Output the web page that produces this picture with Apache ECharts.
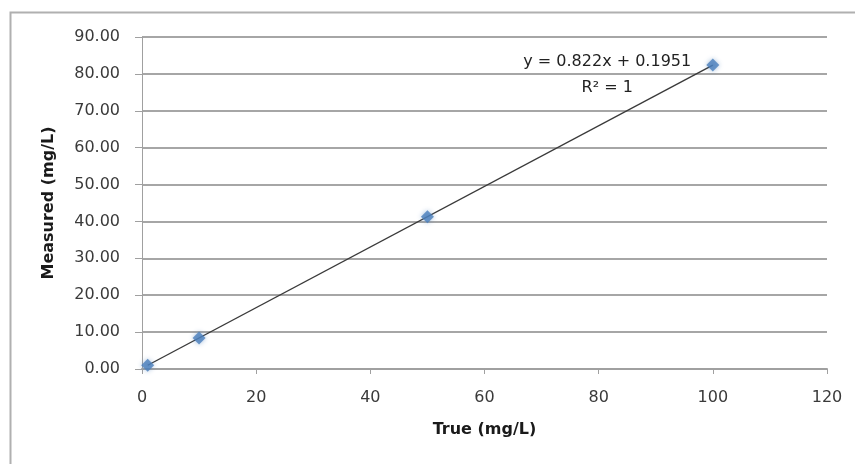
<!DOCTYPE html>
<html>
<head>
<meta charset="utf-8">
<script src="https://cdn.jsdelivr.net/npm/echarts@6/dist/echarts.min.js"></script>
<style>
  html, body { margin: 0; padding: 0; background: #ffffff; }
  #chart { width: 855px; height: 464px; }
</style>
</head>
<body>
<div id="chart"></div>
<script>
// Calibration data: true vs measured concentration
const trueValues = [1, 10, 50, 100];
const measuredValues = [1.02, 8.42, 41.30, 82.40];

// Linear fit reported on the chart
const slope = 0.822;
const intercept = 0.1951;
const rSquared = 1;

const xTicks = { min: 0, max: 120, interval: 20 };
const yTicks = { min: 0, max: 90, interval: 10 };

const points = trueValues.map((x, i) => [x, measuredValues[i]]);
const fitX = [Math.min(...trueValues), Math.max(...trueValues)];
const fitLine = fitX.map(x => [x, slope * x + intercept]);

const chart = echarts.init(document.getElementById('chart'), null, { renderer: 'canvas' });
const font = '"DejaVu Sans", "Noto Sans", sans-serif';

chart.setOption({
  backgroundColor: '#ffffff',
  animation: false,
  graphic: [{
    type: 'rect',
    shape: { x: 10.5, y: 12.5, width: 900, height: 500 },
    style: { fill: 'none', stroke: '#b0b0b0', lineWidth: 2 },
    silent: true
  }],
  grid: { left: 142, top: 37, width: 685, height: 332 },
  xAxis: {
    type: 'value',
    min: xTicks.min, max: xTicks.max, interval: xTicks.interval,
    name: 'True (mg/L)',
    nameLocation: 'middle',
    nameGap: 53,
    nameTextStyle: { fontFamily: font, fontSize: 16, fontWeight: 'bold', color: '#1a1a1a' },
    axisLine: { show: true, onZero: false, lineStyle: { color: '#a0a0a0', width: 2 } },
    axisTick: { show: true, length: 5, lineStyle: { color: '#a0a0a0' } },
    axisLabel: { fontFamily: font, fontSize: 16, color: '#3a3a3a', margin: 21 },
    splitLine: { show: false }
  },
  yAxis: {
    type: 'value',
    min: yTicks.min, max: yTicks.max, interval: yTicks.interval,
    name: 'Measured (mg/L)',
    nameLocation: 'middle',
    nameGap: 85,
    nameRotate: 90,
    nameTextStyle: { fontFamily: font, fontSize: 16, fontWeight: 'bold', color: '#1a1a1a' },
    axisLine: { show: true, lineStyle: { color: '#a0a0a0', width: 1 } },
    axisTick: { show: true, length: 7, lineStyle: { color: '#a0a0a0' } },
    axisLabel: {
      fontFamily: font, fontSize: 16, color: '#3a3a3a', margin: 22,
      formatter: v => v.toFixed(2)
    },
    splitLine: { show: true, lineStyle: { color: '#a6a6a6', width: 2 } }
  },
  series: [
    {
      name: 'Linear fit',
      type: 'line',
      data: fitLine,
      symbol: 'none',
      lineStyle: { color: '#3a3a3a', width: 1.4 },
      z: 3,
      markPoint: {
        symbol: 'circle', symbolSize: 0,
        data: [{
          coord: [81.5, 79.7],
          label: {
            show: true,
            position: 'inside',
            formatter: 'y = ' + slope + 'x + ' + intercept + '\n' + 'R² = ' + rSquared,
            fontFamily: font, fontSize: 16, color: '#222',
            lineHeight: 26, align: 'center'
          }
        }]
      }
    },
    {
      name: 'Measured',
      type: 'scatter',
      data: points,
      symbol: 'diamond',
      symbolSize: 13,
      itemStyle: {
        color: '#4a7ebb',
        shadowBlur: 5,
        shadowColor: 'rgba(74,126,187,0.6)'
      },
      z: 4
    }
  ]
});
</script>
</body>
</html>
